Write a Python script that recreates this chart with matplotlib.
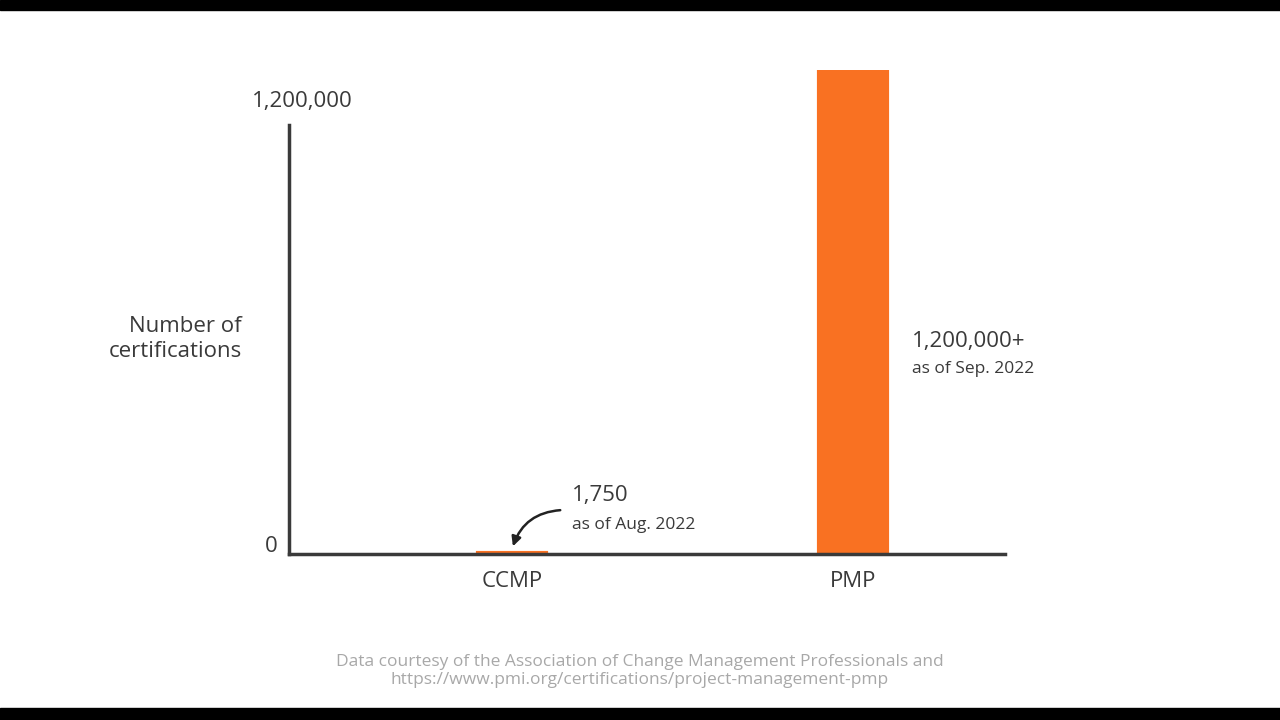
import matplotlib.pyplot as plt
from matplotlib.patches import FancyArrowPatch

categories = ['CCMP', 'PMP']
values = [1750, 1200000]
value_labels = ['1,750', '1,200,000+']
date_labels = ['as of Aug. 2022', 'as of Sep. 2022']
y_tick_labels = ['0', '1,200,000']

plt.rcParams['font.family'] = ['Open Sans', 'DejaVu Sans']
dark = '#3a3a3a'
orange = '#F97122'

fig = plt.figure(figsize=(12.8, 7.2), dpi=100)
fig.patch.set_facecolor('white')
# black letterbox strips
fig.add_artist(plt.Rectangle((0, 1 - 10 / 720), 1, 10 / 720, transform=fig.transFigure, color='black'))
fig.add_artist(plt.Rectangle((0, 0), 1, 12 / 720, transform=fig.transFigure, color='black'))

ax = fig.add_axes([289 / 1280, 166 / 720, 716 / 1280, 484 / 720])
x = list(range(len(categories)))
ax.bar(x, values, width=0.2, color=orange, edgecolor=orange, linewidth=3)
ax.set_xlim(-0.652, 1.444)
ax.set_ylim(0, 1200000)
for s in ['top', 'right']:
    ax.spines[s].set_visible(False)
for s in ['left', 'bottom']:
    ax.spines[s].set_color(dark)
    ax.spines[s].set_linewidth(2.5)
ax.spines['left'].set_bounds(0, 1064000)
ax.set_xticks(x)
ax.set_xticklabels(categories, fontsize=16, color=dark)
ax.tick_params(axis='x', length=0, pad=12)
ax.set_yticks([])

fig.text(278 / 1280, 1 - 546 / 720, y_tick_labels[0], fontsize=16, color=dark, ha='right', va='center')
fig.text(353 / 1280, 1 - 102 / 720, y_tick_labels[1], fontsize=16, color=dark, ha='right', va='center')
fig.text(242 / 1280, 1 - 339 / 720, 'Number of\ncertifications', fontsize=16, color=dark,
         ha='right', va='center', linespacing=1.25)

# annotations
fig.text(572 / 1280, 1 - 496 / 720, value_labels[0], fontsize=16, color=dark, va='center')
fig.text(572 / 1280, 1 - 525 / 720, date_labels[0], fontsize=12.5, color=dark, va='center')
fig.text(912 / 1280, 1 - 341 / 720, value_labels[1], fontsize=16, color=dark, va='center')
fig.text(912 / 1280, 1 - 369 / 720, date_labels[1], fontsize=12.5, color=dark, va='center')
arrow = FancyArrowPatch((563 / 1280, 1 - 510 / 720), (512 / 1280, 1 - 549 / 720),
                        transform=fig.transFigure, connectionstyle='arc3,rad=0.35',
                        arrowstyle='-|>', mutation_scale=14, color='#222222', linewidth=1.8)
fig.add_artist(arrow)

fig.text(640 / 1280, 1 - 671 / 720,
         'Data courtesy of the Association of Change Management Professionals and\n'
         'https://www.pmi.org/certifications/project-management-pmp',
         fontsize=12.5, color='#a8a8a8', ha='center', va='center', linespacing=1.1)

fig.savefig('out.png', dpi=100)
